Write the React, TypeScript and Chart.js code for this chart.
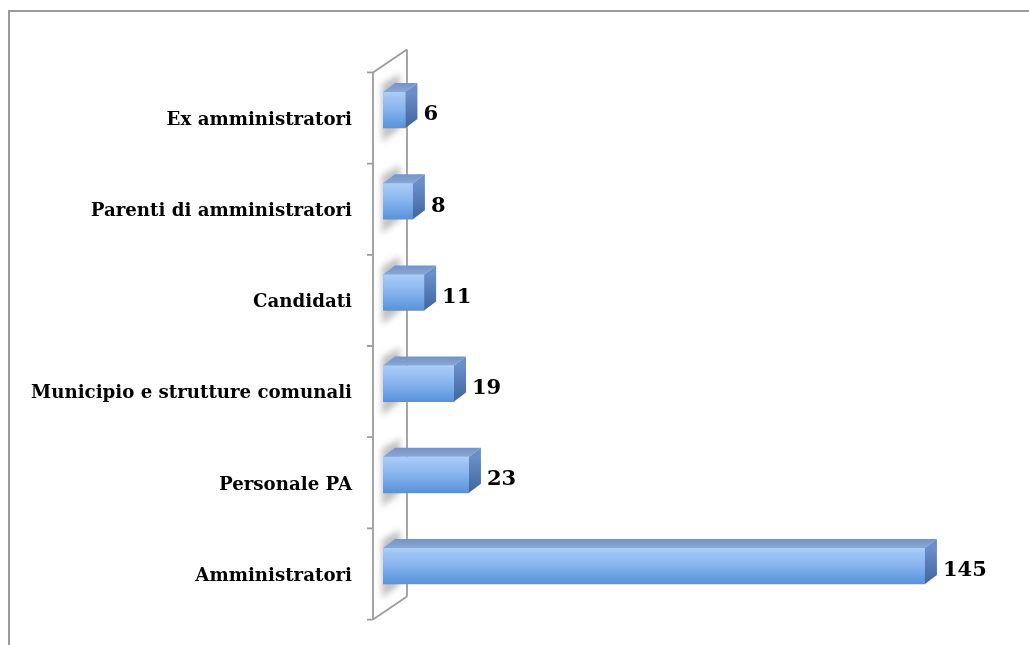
import React, { useEffect, useRef } from "react";
import { Chart, registerables } from "chart.js";

Chart.register(...registerables);

const categories = [
  "Ex amministratori",
  "Parenti di amministratori",
  "Candidati",
  "Municipio e strutture comunali",
  "Personale PA",
  "Amministratori",
];
const values = [6, 8, 11, 19, 23, 145];
const axisMax = 160;

const FONT = "'DejaVu Serif', serif";
const DX = 12;
const DY = 9;

const threeD = {
  id: "threeD",
  beforeDatasetsDraw(chart: any) {
    const ctx = chart.ctx;
    const ys = chart.scales.y;
    const xs = chart.scales.x;
    const x0 = xs.getPixelForValue(0);
    const band = ys.getPixelForValue(1) - ys.getPixelForValue(0);
    const top = ys.getPixelForValue(0) - band / 2 + 8;
    const bottom = ys.getPixelForValue(categories.length - 1) + band / 2 + 8;
    const lx = x0 - 10;
    const rx = x0 + 24;
    const wdy = -23;
    ctx.save();
    // shadows on the wall
    const meta = chart.getDatasetMeta(0);
    ctx.filter = "blur(3px)";
    ctx.fillStyle = "rgba(90,90,90,0.38)";
    meta.data.forEach((bar: any) => {
      const h = bar.height;
      const t = bar.y - h / 2 - 16;
      const b = bar.y + h / 2 + 14;
      ctx.beginPath();
      ctx.moveTo(x0 - 1, t + 8);
      ctx.lineTo(x0 + 17, t - 2);
      ctx.lineTo(x0 + 17, b - 14);
      ctx.lineTo(x0 - 1, b);
      ctx.closePath();
      ctx.fill();
    });
    ctx.filter = "none";
    ctx.strokeStyle = "#9c9c9c";
    ctx.lineWidth = 1.8;
    ctx.beginPath();
    ctx.moveTo(lx, top);
    ctx.lineTo(lx, bottom);
    ctx.moveTo(rx, top + wdy);
    ctx.lineTo(rx, bottom + wdy);
    ctx.moveTo(lx, top);
    ctx.lineTo(rx, top + wdy);
    ctx.moveTo(lx, bottom);
    ctx.lineTo(rx, bottom + wdy);
    for (let i = 0; i <= categories.length; i++) {
      const yy = top + i * band;
      ctx.moveTo(lx - 6, yy);
      ctx.lineTo(lx, yy);
    }
    ctx.stroke();
    ctx.restore();
  },
  afterDatasetsDraw(chart: any) {
    const ctx = chart.ctx;
    const meta = chart.getDatasetMeta(0);
    ctx.save();
    meta.data.forEach((bar: any, i: number) => {
      const h = bar.height;
      const t = bar.y - h / 2;
      const b = bar.y + h / 2;
      const base = bar.base;
      const xr = bar.x;
      // top face
      const gt = ctx.createLinearGradient(0, t - DY, 0, t);
      gt.addColorStop(0, "#7693c4");
      gt.addColorStop(1, "#88a6d6");
      ctx.fillStyle = gt;
      ctx.beginPath();
      ctx.moveTo(base, t);
      ctx.lineTo(xr, t);
      ctx.lineTo(xr + DX, t - DY);
      ctx.lineTo(base + DX, t - DY);
      ctx.closePath();
      ctx.fill();
      // side face
      const gs = ctx.createLinearGradient(0, t, 0, b);
      gs.addColorStop(0, "#6a8fc8");
      gs.addColorStop(1, "#3f659f");
      ctx.fillStyle = gs;
      ctx.beginPath();
      ctx.moveTo(xr, t);
      ctx.lineTo(xr + DX, t - DY);
      ctx.lineTo(xr + DX, b - DY);
      ctx.lineTo(xr, b);
      ctx.closePath();
      ctx.fill();
      // label
      ctx.fillStyle = "#000";
      ctx.font = `bold 21px ${FONT}`;
      ctx.textAlign = "left";
      ctx.textBaseline = "middle";
      ctx.fillText(String(values[i]), xr + DX + 6, bar.y + 5);
    });
    ctx.restore();
  },
};

export default function App() {
  const ref = useRef<HTMLCanvasElement>(null);
  useEffect(() => {
    if (!ref.current) return;
    const chart = new Chart(ref.current, {
      type: "bar",
      data: {
        labels: categories,
        datasets: [
          {
            data: values,
            barThickness: 36,
            borderWidth: 0,
            backgroundColor: (c: any) => {
              const ch = c.chart;
              const ys = ch.scales.y;
              if (!ch.chartArea || !ys) return "#7aaae8";
              const yc = ys.getPixelForValue(c.dataIndex);
              const g = ch.ctx.createLinearGradient(0, yc - 18, 0, yc + 18);
              g.addColorStop(0, "#abcdf8");
              g.addColorStop(0.5, "#86b3ee");
              g.addColorStop(1, "#5892db");
              return g;
            },
          },
        ],
      },
      options: {
        indexAxis: "y",
        responsive: false,
        animation: false,
        layout: { padding: { left: 0, right: 48, top: 64.4, bottom: 33.4 } },
        plugins: { legend: { display: false }, tooltip: { enabled: false } },
        scales: {
          x: { display: false, min: 0, max: axisMax },
          y: {
            afterFit: (s: any) => {
              s.width = 383;
              s.paddingTop = 0;
              s.paddingBottom = 0;
            },
            grid: { display: false, drawTicks: false },
            border: { display: false },
            ticks: {
              padding: 31,
              labelOffset: 10,
              color: "#000",
              font: { family: FONT, weight: "bold", size: 18.2 },
            },
          },
        },
      },
      plugins: [threeD],
    });
    return () => chart.destroy();
  }, []);
  return (
    <div style={{ position: "fixed", left: 0, top: 0, width: 1029, height: 645, background: "#fff" }}>
      <div
        style={{
          position: "absolute",
          left: 8,
          top: 10,
          right: -10,
          bottom: -10,
          borderTop: "2px solid #9a9a9a",
          borderLeft: "2px solid #9a9a9a",
        }}
      />
      <canvas ref={ref} width={1029} height={645} style={{ position: "absolute", left: 0, top: 0 }} />
    </div>
  );
}
